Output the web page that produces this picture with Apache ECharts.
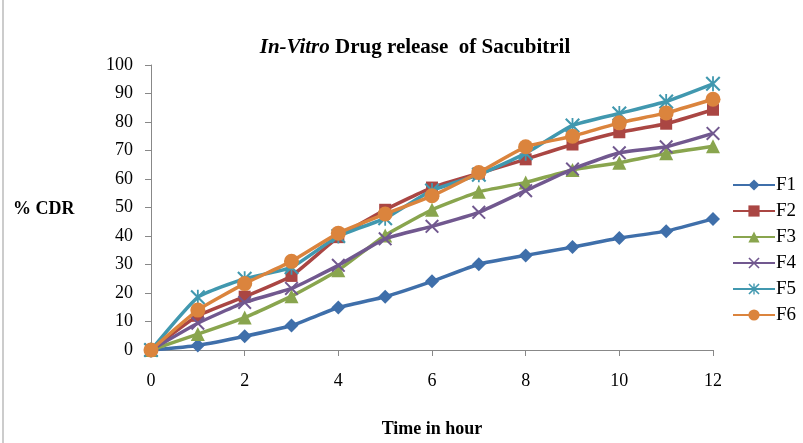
<!DOCTYPE html>
<html><head><meta charset="utf-8">
<script src="https://cdn.jsdelivr.net/npm/echarts@6/dist/echarts.min.js"></script>
<style>html,body{margin:0;padding:0;background:#fff}#c{width:803px;height:443px}</style>
</head><body><div id="c"></div>
<script>
const hours = [0,1,2,3,4,5,6,7,8,9,10,11,12];
const seriesNames = ['F1','F2','F3','F4','F5','F6'];
const F1 = [0,1.6,4.8,8.6,14.9,18.7,24.1,30.1,33.2,36.1,39.3,41.7,46];
const F2 = [0,12,18.7,26,39.6,49.2,57,62,66.9,72.1,76.4,79.4,84.3];
const F3 = [0,5.6,11.4,18.9,28,40.2,49.2,55.5,58.8,63.2,65.7,69,71.5];
const F4 = [0,9.4,16.7,21.6,29.7,39,43.4,48.3,55.9,63.5,69.2,71.3,76];
const F5 = [0,18.5,25,29,40,46.2,56,61.5,69,78.8,83,87.2,93.4];
const F6 = [0,14,23.3,31.1,41,47.7,54.1,62.3,71.3,75,79.7,83.2,88];
const allData = [F1,F2,F3,F4,F5,F6];
const colors = ['#3F6FAA','#AA4643','#89A54E','#71588F','#4198AF','#DB843D'];
const xPath = 'path://M0,1 L1,0 L10,9 L9,10 Z M9,0 L10,1 L1,10 L0,9 Z';
const starPath = 'path://M0,1 L1,0 L10,9 L9,10 Z M9,0 L10,1 L1,10 L0,9 Z M4.4,0 L5.6,0 L5.6,10 L4.4,10 Z';
const symbols = ['diamond','rect','triangle',xPath,starPath,'circle'];
const sizes = [14,12,14,14,15,15];
const serif = '"Liberation Serif","DejaVu Serif",serif';

const chart = echarts.init(document.getElementById('c'));
chart.setOption({
  animation:false,
  backgroundColor:'#fff',
  title:{
    text:'{i|In-Vitro} Drug release  of Sacubitril',
    left:410, top:32, textAlign:'center',
    textStyle:{fontFamily:serif,fontSize:21,fontWeight:'bold',color:'#000',
      rich:{i:{fontFamily:serif,fontSize:21,fontWeight:'bold',fontStyle:'italic',color:'#000'}}}
  },
  legend:{
    orient:'vertical', left:727, top:170, itemGap:6,
    itemWidth:42, itemHeight:14,
    textStyle:{fontFamily:serif,fontSize:19,color:'#000',padding:[0,0,0,-4],lineHeight:20},
    data:seriesNames
  },
  grid:{left:151,right:90,top:65,bottom:87},
  xAxis:{
    type:'value',min:0,max:12,interval:2,
    axisLine:{lineStyle:{color:'#888',width:1}},
    axisTick:{show:true,length:6,lineStyle:{color:'#888'}},
    axisLabel:{fontFamily:serif,fontSize:18,color:'#000',margin:22},
    splitLine:{show:false},
    name:'Time in hour',nameLocation:'middle',nameGap:70,
    nameTextStyle:{fontFamily:serif,fontSize:18,fontWeight:'bold',color:'#000'}
  },
  yAxis:{
    type:'value',min:0,max:100,interval:10,
    axisLine:{show:true,lineStyle:{color:'#888',width:1}},
    axisTick:{show:true,length:6,lineStyle:{color:'#888'}},
    axisLabel:{fontFamily:serif,fontSize:18,color:'#000',margin:18},
    splitLine:{show:false}
  },
  graphic:[
    {type:'text',left:13,top:200,style:{text:'% CDR',font:'bold 18px "Liberation Serif", serif',fill:'#000'}},
    {type:'line',shape:{x1:3,y1:0,x2:3,y2:443},style:{stroke:'#999',lineWidth:1}}
  ],
  series: allData.map((d,i)=>({
    name:seriesNames[i], type:'line',
    data: hours.map((h,j)=>[h,d[j]]),
    smooth:0.15,
    symbol:symbols[i], symbolSize:sizes[i],
    lineStyle:{width:3.5,color:colors[i]},
    itemStyle:{color:colors[i],borderWidth:0},
    z:2+i
  }))
});
</script></body></html>
